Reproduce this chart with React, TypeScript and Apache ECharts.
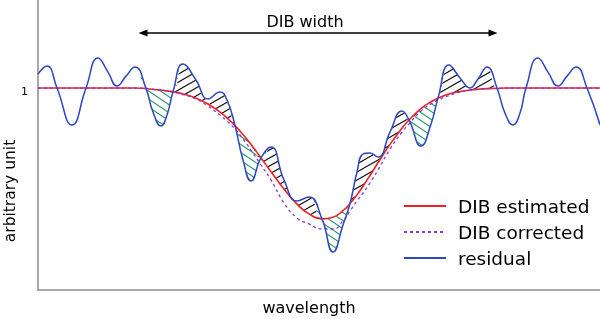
import React, { useEffect, useRef } from "react";
import * as echarts from "echarts";

// wavelength positions (arbitrary units)
const wavelength = [
  0, 9, 19, 34, 48, 60, 70, 79, 88, 97,
  108, 115, 123, 129, 135, 145, 158, 170, 182, 189,
  197, 205, 213, 223, 233, 246, 259, 271, 284, 295,
  305, 312, 319, 325, 332, 340, 352, 364, 371, 383,
  393, 400, 411, 422, 432, 440, 449, 459, 467, 475,
  482, 488, 500, 510, 520, 529, 538, 549, 562,
];
// observed residual spectrum
const residual = [
  1.069, 1.109, 1.0, 0.817, 1.0, 1.149, 1.079, 1.01, 1.059, 1.104,
  0.998, 0.881, 0.812, 0.866, 0.982, 1.119, 1.04, 0.946, 0.98, 0.941,
  0.814, 0.644, 0.54, 0.654, 0.708, 0.545, 0.441, 0.46, 0.352, 0.188,
  0.322, 0.428, 0.584, 0.673, 0.678, 0.658, 0.782, 0.886, 0.842, 0.713,
  0.822, 0.95, 1.114, 1.05, 1.0, 1.045, 1.104, 1.0, 0.876, 0.817,
  0.876, 1.0, 1.149, 1.079, 1.01, 1.059, 1.104, 1.0, 0.817,
];
// estimated DIB profile
const estimated = [
  1, 1, 1, 1, 1, 1, 1, 1, 1, 1,
  0.998, 0.993, 0.99, 0.986, 0.982, 0.971, 0.95, 0.921, 0.881, 0.852,
  0.814, 0.77, 0.721, 0.654, 0.586, 0.5, 0.425, 0.377, 0.352, 0.36,
  0.393, 0.428, 0.471, 0.514, 0.567, 0.63, 0.721, 0.802, 0.842, 0.898,
  0.932, 0.95, 0.97, 0.983, 0.99, 0.994, 0.997, 0.998, 1, 1,
  1, 1, 1, 1, 1, 1, 1, 1, 1,
];
// corrected DIB profile
const corrected = [
  1, 1, 1, 1, 1, 1, 1, 1, 1, 1,
  0.998, 0.995, 0.99, 0.985, 0.98, 0.968, 0.946, 0.911, 0.866, 0.837,
  0.797, 0.748, 0.693, 0.619, 0.545, 0.431, 0.356, 0.327, 0.302, 0.302,
  0.342, 0.391, 0.441, 0.48, 0.53, 0.594, 0.698, 0.782, 0.822, 0.886,
  0.921, 0.941, 0.963, 0.98, 0.99, 0.995, 0.997, 0.999, 1, 1,
  1, 1, 1, 1, 1, 1, 1, 1, 1,
];
// range over which the residual difference is hatched
const hatchRange = [108, 459];
// DIB width arrow
const widthArrow = [105, 455];
const widthArrowLevel = 1.272;
const yTicks = [1];

function hatch(color: string, w: number, h: number, dir: number) {
  const c = document.createElement("canvas");
  c.width = w;
  c.height = h;
  const ctx = c.getContext("2d")!;
  ctx.strokeStyle = color;
  ctx.lineWidth = 1.1;
  for (const dx of [-w, 0, w]) {
    for (const dy of [-h, 0, h]) {
      ctx.beginPath();
      if (dir > 0) {
        ctx.moveTo(dx, h + dy);
        ctx.lineTo(w + dx, dy);
      } else {
        ctx.moveTo(dx, dy);
        ctx.lineTo(w + dx, h + dy);
      }
      ctx.stroke();
    }
  }
  return { image: c, repeat: "repeat", imageWidth: w, imageHeight: h } as any;
}

export default function App() {
  const ref = useRef<HTMLDivElement>(null);
  useEffect(() => {
    if (!ref.current) return;
    const chart = echarts.init(ref.current, null, { renderer: "svg" });
    const font = "DejaVu Sans";
    const pts = (ys: number[]) => wavelength.map((x, i) => [x, ys[i]]);
    const inHatch = (x: number) => x >= hatchRange[0] && x <= hatchRange[1];
    const above = wavelength.map((x, i) => [
      x,
      inHatch(x) ? Math.max(residual[i] - estimated[i], 0) : 0,
    ]);
    const below = wavelength.map((x, i) => [
      x,
      inHatch(x) ? Math.max(estimated[i] - residual[i], 0) : 0,
    ]);
    const hidden = {
      type: "line",
      smooth: true,
      symbol: "none",
      silent: true,
      lineStyle: { opacity: 0 },
    };
    chart.setOption({
      animation: false,
      grid: { left: 38, right: 0, top: 0, bottom: 29 },
      xAxis: {
        // time-type axis so that stacking happens on the y values
        type: "time",
        min: 0,
        max: 562,
        axisLine: { lineStyle: { color: "#8c8c8c", width: 1.5 } },
        axisTick: { show: false },
        axisLabel: { show: false },
        splitLine: { show: false },
      },
      yAxis: {
        type: "value",
        min: 0,
        max: 1.436,
        interval: 1,
        axisLine: { show: true, lineStyle: { color: "#8c8c8c", width: 1.5 } },
        axisTick: { show: false },
        splitLine: { show: false },
        axisLabel: {
          formatter: (v: number) => (yTicks.includes(v) ? String(v) : ""),
          color: "#000",
          fontSize: 11,
          fontFamily: font,
          margin: 10,
          verticalAlign: "top",
          lineHeight: 6,
        },
      },
      legend: {
        data: ["DIB estimated", "DIB corrected", "residual"],
        orient: "vertical",
        left: 398,
        top: 191,
        itemWidth: 42,
        itemHeight: 10,
        itemGap: 6,
        itemStyle: { opacity: 0 },
        textStyle: {
          fontSize: 18.5,
          fontFamily: font,
          color: "#000",
          lineHeight: 20,
          padding: [0, 0, 0, 7],
        },
      },
      graphic: [
        {
          type: "text",
          x: 305,
          y: 21,
          style: {
            text: "DIB width",
            fontSize: 16,
            fontFamily: font,
            fill: "#000",
            textAlign: "center",
            textVerticalAlign: "middle",
          },
        },
        {
          type: "text",
          x: 309,
          y: 307,
          style: {
            text: "wavelength",
            fontSize: 16,
            fontFamily: font,
            fill: "#000",
            textAlign: "center",
            textVerticalAlign: "middle",
          },
        },
        {
          type: "text",
          x: 10,
          y: 191,
          rotation: Math.PI / 2,
          style: {
            text: "arbitrary unit",
            fontSize: 15.5,
            fontFamily: font,
            fill: "#000",
            textAlign: "center",
            textVerticalAlign: "middle",
          },
        },
      ],
      series: [
        { ...hidden, name: "baseEst", stack: "up", data: pts(estimated) },
        {
          ...hidden,
          name: "hatchAbove",
          stack: "up",
          data: above,
          areaStyle: { color: hatch("#111111", 14, 8, 1), opacity: 1 },
        },
        { ...hidden, name: "baseRes", stack: "down", data: pts(residual) },
        {
          ...hidden,
          name: "hatchBelow",
          stack: "down",
          data: below,
          areaStyle: { color: hatch("#2c9c66", 12, 8, -1), opacity: 1 },
        },
        {
          name: "DIB estimated",
          type: "line",
          smooth: true,
          symbol: "none",
          data: pts(estimated),
          color: "#ee2222",
          lineStyle: { color: "#ee2222", width: 1.6 },
        },
        {
          name: "DIB corrected",
          type: "line",
          smooth: true,
          symbol: "none",
          data: pts(corrected),
          color: "#8a38e0",
          lineStyle: { color: "#8a38e0", width: 1.3, type: [3, 3] },
        },
        {
          name: "residual",
          type: "line",
          smooth: true,
          symbol: "none",
          data: pts(residual),
          color: "#2c48c0",
          lineStyle: { color: "#2c48c0", width: 1.5 },
          markLine: {
            silent: true,
            symbol: ["triangle", "triangle"],
            symbolSize: [7, 9],
            label: { show: false },
            lineStyle: { color: "#000", width: 1.5, type: "solid" },
            data: [
              [
                { coord: [widthArrow[0], widthArrowLevel] },
                { coord: [widthArrow[1], widthArrowLevel] },
              ],
            ],
          },
        },
      ],
    });
    return () => chart.dispose();
  }, []);
  return (
    <div
      ref={ref}
      style={{ position: "fixed", left: 0, top: 0, width: 600, height: 319 }}
    />
  );
}
